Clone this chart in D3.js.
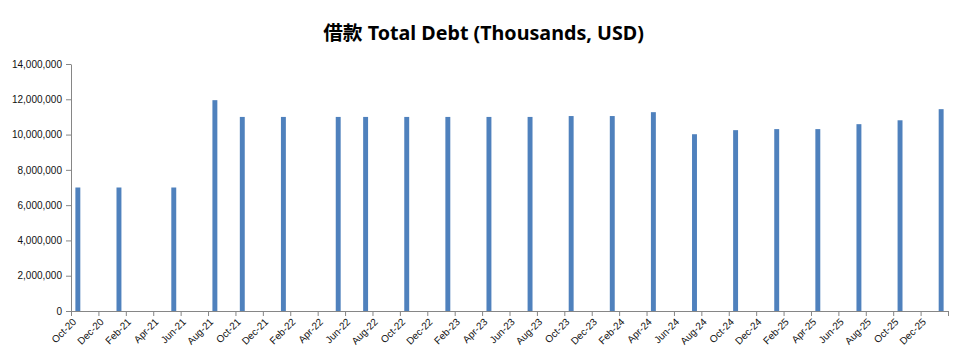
<!DOCTYPE html>
<html>
<head>
<meta charset="utf-8">
<script src="https://cdn.jsdelivr.net/npm/d3@7"></script>
<style>
  body { margin: 0; background: #fff; }
  svg { display: block; }
</style>
</head>
<body>
<div id="chart"></div>
<script>
// reporting months (yyyy-mm) and total debt in thousands USD
const months = ["2020-10", "2021-01", "2021-05", "2021-08", "2021-10", "2022-01",
  "2022-05", "2022-07", "2022-10", "2023-01", "2023-04", "2023-07", "2023-10",
  "2024-01", "2024-04", "2024-07", "2024-10", "2025-01", "2025-04", "2025-07",
  "2025-10", "2026-01"];
const debt = [7000000, 7000000, 7000000, 11950000, 11000000, 11000000,
  11000000, 11000000, 11000000, 11000000, 11000000, 11000000, 11050000,
  11050000, 11270000, 10020000, 10250000, 10310000, 10310000, 10590000,
  10810000, 11440000];
const yTicks = [0, 2000000, 4000000, 6000000, 8000000, 10000000, 12000000, 14000000];
const axisStart = "2020-10";   // first month on the date axis
const axisMonths = 64;         // Oct-20 .. Jan-26, axis ends at Feb-26
const title = "借款 Total Debt (Thousands, USD)";

const W = 961, H = 357;
const margin = { top: 64, right: 13, bottom: 46, left: 71 },
  width = W - margin.left - margin.right,
  height = H - margin.top - margin.bottom;

const parse = d3.timeParse("%Y-%m");
const start = parse(axisStart);
const fmt = d3.timeFormat("%b-%y");
const data = months.map((m, i) => ({ idx: d3.timeMonth.count(start, parse(m)), value: debt[i] }));

const svg = d3.select("#chart").append("svg")
  .attr("width", W).attr("height", H);

svg.append("text")
  .attr("x", W / 2 + 3).attr("y", 40)
  .attr("text-anchor", "middle")
  .style("font-family", "'Noto Sans', 'Noto Sans CJK SC', sans-serif")
  .style("font-weight", "bold")
  .style("font-size", "19.7px")
  .attr("fill", "#000")
  .text(title);

const g = svg.append("g").attr("transform", `translate(${margin.left},${margin.top})`);

// one slot per month, ticks every second month
const x = d3.scaleLinear().domain([0, axisMonths]).range([0, width]);
const y = d3.scaleLinear().domain([0, 14000000]).range([height, 0]);
const slot = x(1) - x(0);
const barW = slot * 0.36;

g.selectAll("rect.bar")
  .data(data)
  .enter().append("rect")
  .attr("class", "bar")
  .attr("x", d => x(d.idx) + (slot - barW) / 2)
  .attr("y", d => y(d.value))
  .attr("width", barW)
  .attr("height", d => y(0) - y(d.value))
  .attr("fill", "#4f81bd");

const yAxis = g.append("g")
  .call(d3.axisLeft(y).tickValues(yTicks).tickFormat(d3.format(",")).tickSize(5).tickSizeOuter(0));

const xAxis = g.append("g")
  .attr("transform", `translate(0,${height})`)
  .call(d3.axisBottom(x)
    .tickValues(d3.range(0, axisMonths + 1, 2))
    .tickFormat(d => d < axisMonths ? fmt(d3.timeMonth.offset(start, d)) : "")
    .tickSize(5).tickSizeOuter(0));

[yAxis, xAxis].forEach(a => {
  a.select(".domain").attr("stroke", "#868686");
  a.selectAll(".tick line").attr("stroke", "#868686");
  a.selectAll("text")
    .style("font-family", "'Liberation Sans', Arial, sans-serif")
    .style("font-size", "10px")
    .attr("fill", "#111");
});
yAxis.selectAll("text").attr("x", -9);

xAxis.selectAll(".tick text")
  .attr("x", 0).attr("y", 0).attr("dy", "0.35em")
  .attr("text-anchor", "end")
  .attr("transform", "translate(3,9) rotate(-45)");
</script>
</body>
</html>
